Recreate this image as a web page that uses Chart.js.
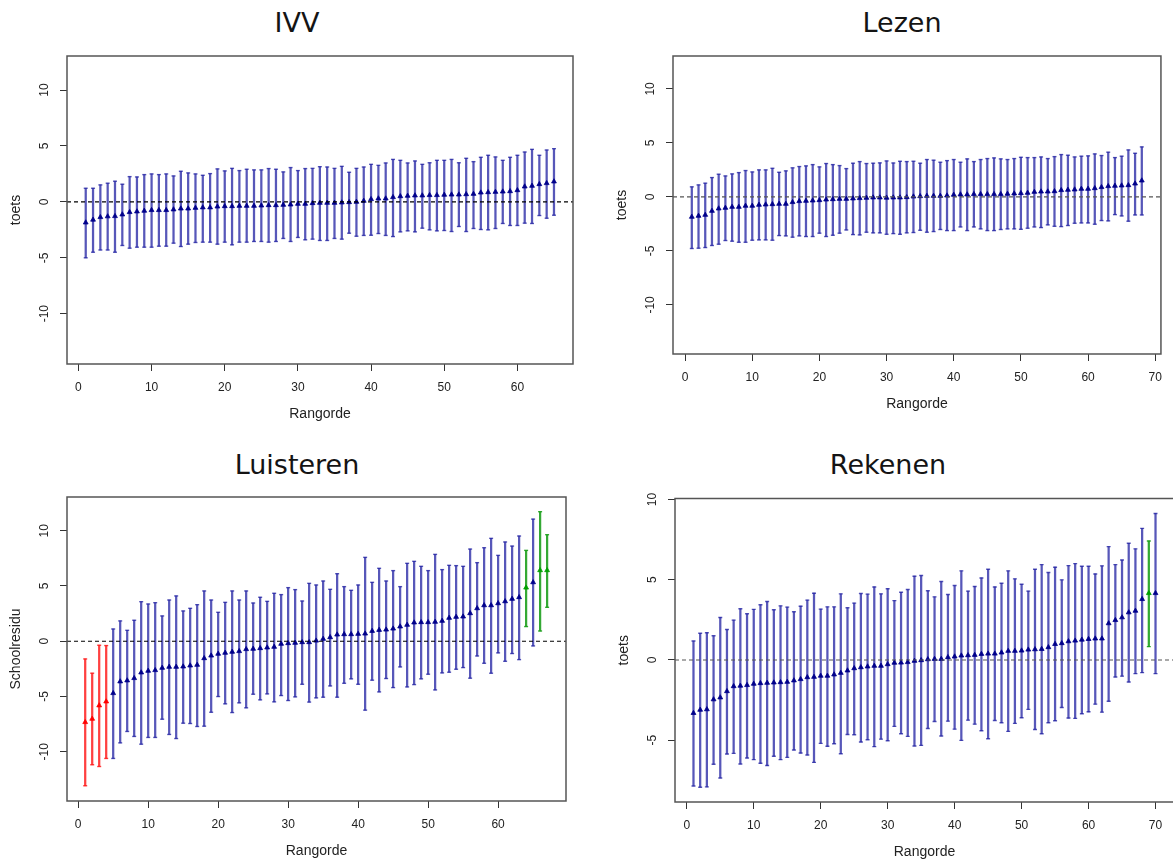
<!DOCTYPE html>
<html>
<head>
<meta charset="utf-8">
<script src="https://cdn.jsdelivr.net/npm/chart.js@4.4.1/dist/chart.umd.min.js"></script>
<style>
  html, body { margin: 0; padding: 0; background: #fff; overflow: hidden; width: 1173px; height: 863px; }
  canvas { position: absolute; }
  .ttl { position: absolute; width: 300px; text-align: center; font-family: "DejaVu Sans", sans-serif;
         font-size: 27px; line-height: 27px; color: #141414; white-space: nowrap; }
</style>
</head>
<body>
<div class="ttl" id="t1">IVV</div>
<div class="ttl" id="t2">Lezen</div>
<div class="ttl" id="t3">Luisteren</div>
<div class="ttl" id="t4">Rekenen</div>
<canvas id="c1"></canvas>
<canvas id="c2"></canvas>
<canvas id="c3"></canvas>
<canvas id="c4"></canvas>
<script>
// ---------------- DATA ----------------
const panelTitles = ["IVV", "Lezen", "Luisteren", "Rekenen"];
const xAxisTitle = "Rangorde";
const yAxisTitles = ["toets", "toets", "Schoolresidu", "toets"];

// IVV (65 schools, ordered by rank)
const ivvEst = [-1.85,-1.6,-1.37,-1.3,-1.28,-1.13,-0.92,-0.86,-0.8,-0.74,-0.74,-0.74,-0.68,-0.6,-0.6,-0.54,-0.5,-0.5,-0.42,-0.39,
  -0.39,-0.36,-0.36,-0.36,-0.33,-0.3,-0.3,-0.27,-0.24,-0.18,-0.18,-0.12,-0.09,-0.09,-0.09,-0.06,-0.03,0,0.09,0.24,
  0.3,0.3,0.42,0.5,0.54,0.57,0.57,0.6,0.6,0.63,0.65,0.65,0.68,0.71,0.83,0.86,0.89,0.92,0.95,1.04,
  1.37,1.43,1.58,1.67,1.82];
const ivvHigh = [1.22,1.22,1.52,1.67,1.85,1.58,2.26,2.23,2.44,2.5,2.44,2.5,2.32,2.74,2.59,2.5,2.38,2.53,2.95,2.77,
  3.0,2.8,2.92,2.86,2.86,2.98,2.92,2.68,3.07,2.8,2.98,3.0,3.15,3.12,3.0,3.18,2.65,3.0,3.12,3.36,
  3.27,3.48,3.8,3.72,3.48,3.66,3.36,3.5,3.72,3.72,3.8,3.5,3.9,3.6,3.99,4.17,4.02,3.72,3.99,4.17,
  4.46,4.7,4.17,4.64,4.76];
const ivvLow = [-5.0,-4.5,-4.3,-4.3,-4.5,-3.9,-4.14,-4.05,-4.05,-4.05,-3.96,-3.96,-3.69,-3.99,-3.78,-3.63,-3.6,-3.6,-3.78,-3.6,
  -3.84,-3.6,-3.6,-3.54,-3.54,-3.6,-3.54,-3.27,-3.54,-3.18,-3.39,-3.33,-3.45,-3.45,-3.27,-3.33,-2.8,-3.07,-3.0,-2.98,
  -2.83,-3.0,-3.1,-2.68,-2.59,-2.68,-2.35,-2.5,-2.59,-2.56,-2.65,-2.2,-2.65,-2.38,-2.47,-2.5,-2.38,-1.93,-2.11,-2.11,
  -1.9,-1.93,-1.22,-1.46,-1.19];

// Lezen (68 schools)
const lezenEst = [-1.85,-1.76,-1.67,-1.3,-1.08,-1.02,-0.93,-0.93,-0.83,-0.83,-0.74,-0.71,-0.68,-0.65,-0.65,-0.49,-0.4,-0.37,-0.34,-0.31,
  -0.25,-0.22,-0.19,-0.19,-0.15,-0.12,-0.09,-0.06,-0.06,-0.08,-0.06,-0.06,-0.03,0.03,0.06,0.09,0.09,0.09,0.12,0.19,
  0.22,0.22,0.25,0.25,0.25,0.25,0.25,0.28,0.31,0.34,0.37,0.46,0.49,0.49,0.52,0.62,0.65,0.68,0.74,0.74,
  0.8,0.9,0.99,1.02,1.05,1.08,1.23,1.51];
const lezenHigh = [0.93,1.11,1.27,1.79,2.1,1.94,2.13,2.25,2.44,2.31,2.5,2.5,2.65,2.28,2.41,2.69,2.81,2.87,2.99,2.78,
  3.09,2.99,2.9,2.62,3.12,3.27,3.09,3.12,3.15,3.33,3.14,3.3,3.27,3.3,3.12,3.46,3.4,3.21,3.36,3.46,
  3.21,3.52,3.27,3.46,3.55,3.61,3.52,3.46,3.55,3.67,3.64,3.64,3.7,3.55,3.73,3.92,3.86,3.7,3.77,3.8,
  3.98,3.83,4.14,3.64,3.77,4.35,4.04,4.63];
const lezenLow = [-4.78,-4.75,-4.69,-4.5,-4.38,-4.04,-4.1,-4.2,-4.2,-4.01,-3.98,-3.98,-4.01,-3.58,-3.61,-3.73,-3.61,-3.67,-3.67,-3.36,
  -3.67,-3.55,-3.36,-3.06,-3.49,-3.52,-3.27,-3.33,-3.33,-3.46,-3.4,-3.46,-3.33,-3.3,-3.09,-3.27,-3.21,-3.02,-3.12,-3.12,
  -2.78,-3.12,-2.78,-2.96,-3.12,-3.12,-3.02,-2.96,-2.96,-3.0,-2.9,-2.78,-2.84,-2.59,-2.72,-2.75,-2.65,-2.44,-2.41,-2.41,
  -2.53,-2.19,-2.22,-1.64,-1.76,-2.25,-1.67,-1.67];

// Luisteren (67 schools)
const luisterenEst = [-7.32,-7.02,-5.81,-5.45,-4.7,-3.64,-3.55,-3.34,-2.83,-2.68,-2.62,-2.41,-2.32,-2.32,-2.29,-2.2,-2.14,-1.54,-1.3,-1.14,
  -1.05,-0.96,-0.9,-0.72,-0.69,-0.63,-0.57,-0.51,-0.24,-0.18,-0.15,-0.09,-0.09,0.05,0.21,0.36,0.6,0.63,0.63,0.66,
  0.69,0.93,1.02,1.05,1.14,1.33,1.48,1.69,1.72,1.72,1.75,1.84,2.11,2.2,2.23,2.53,2.98,3.25,3.25,3.43,
  3.61,3.83,3.98,4.85,5.33,6.42,6.42];
const luisterenHigh = [-1.6,-2.89,-0.36,-0.39,1.11,1.84,0.99,1.9,3.58,3.37,3.49,2.29,3.73,4.1,2.74,2.98,3.31,4.55,3.73,2.62,
  3.52,4.55,3.73,4.55,3.46,3.98,3.61,4.34,4.22,4.85,4.67,3.64,5.24,5.09,5.45,4.7,6.11,4.94,4.61,5.09,
  7.59,5.33,6.6,5.45,6.39,4.94,7.05,7.23,6.78,6.39,7.86,6.48,6.87,6.84,6.78,8.34,7.11,8.46,9.31,7.77,
  8.98,8.61,9.52,8.22,11.05,11.72,9.64];
const luisterenLow = [-13.07,-11.17,-11.33,-10.6,-10.6,-9.19,-8.16,-8.61,-9.31,-8.7,-8.7,-7.05,-8.43,-8.8,-7.41,-7.44,-7.71,-7.68,-6.42,-5.0,
  -5.66,-6.45,-5.57,-6.02,-4.79,-5.3,-4.76,-5.48,-4.91,-5.36,-5.03,-3.89,-5.5,-5.12,-5.06,-4.04,-5.06,-3.8,-3.4,-3.89,
  -6.23,-3.52,-4.58,-3.37,-4.19,-2.32,-4.13,-3.92,-3.4,-2.98,-4.4,-2.86,-2.8,-2.53,-2.38,-3.34,-1.33,-1.99,-2.89,-1.05,
  -1.81,-1.11,-1.66,1.33,-0.42,0.93,3.07];
const luisterenBelowRanks = [1, 2, 3, 4];
const luisterenAboveRanks = [64, 66, 67];

// Rekenen (70 schools)
const rekenenEst = [-3.31,-3.11,-3.08,-2.46,-2.34,-1.95,-1.64,-1.61,-1.57,-1.49,-1.45,-1.43,-1.41,-1.39,-1.37,-1.28,-1.2,-1.08,-1.06,-0.99,
  -0.99,-0.91,-0.81,-0.66,-0.52,-0.46,-0.41,-0.37,-0.37,-0.27,-0.18,-0.17,-0.14,-0.06,-0.02,0.04,0.06,0.06,0.17,0.21,
  0.27,0.29,0.31,0.37,0.39,0.39,0.46,0.56,0.56,0.58,0.64,0.66,0.68,0.79,0.99,1.04,1.16,1.2,1.26,1.3,
  1.33,1.33,2.28,2.48,2.65,2.96,3.06,3.79,4.16,4.16];
const rekenenHigh = [1.18,1.66,1.7,1.51,2.65,1.9,2.48,3.19,2.88,3.15,3.44,3.64,3.13,3.37,3.29,3.0,3.35,3.73,4.16,3.17,
  3.31,3.31,4.12,3.25,3.54,4.14,4.1,4.55,4.12,4.44,3.7,4.22,4.39,5.22,5.26,4.31,3.93,4.89,4.08,4.64,
  5.55,4.29,4.58,5.11,5.65,4.55,4.78,5.55,5.05,4.72,4.29,5.65,5.94,5.45,5.78,4.99,5.88,6.0,5.84,5.84,
  5.36,5.86,7.06,5.94,6.23,7.27,6.92,8.2,7.41,9.13];
const rekenenLow = [-7.85,-7.93,-7.91,-6.5,-7.35,-5.86,-5.82,-6.48,-6.11,-6.21,-6.44,-6.58,-6.0,-6.21,-6.07,-5.61,-5.8,-5.92,-6.38,-5.2,
  -5.38,-5.22,-5.84,-4.64,-4.66,-5.11,-4.97,-5.4,-4.93,-5.03,-4.14,-4.6,-4.76,-5.36,-5.32,-4.27,-3.83,-4.74,-3.81,-4.31,
  -5.01,-3.75,-4.0,-4.41,-4.91,-3.77,-3.91,-4.45,-3.95,-3.6,-3.08,-4.33,-4.6,-3.91,-3.79,-2.96,-3.62,-3.64,-3.35,-3.23,
  -2.75,-3.25,-2.57,-1.06,-1.01,-1.37,-0.85,-0.79,0.83,-0.85];
const rekenenBelowRanks = [];
const rekenenAboveRanks = [69];

// Axis limits (as in the original plots)
const ivvXLim = [-1.56, 67.6],  ivvYLim = [-14.5, 13.05];
const lezenXLim = [-1.8, 70.85], lezenYLim = [-14.55, 13.05];
const luisterenXLim = [-1.6, 69.7], luisterenYLim = [-14.45, 13.05];
const rekenenXLim = [-1.76, 72.76], rekenenYLim = [-8.85, 10.06];
const xTickStep = 10, yTickStep = 5;

// ---------------- STYLE / LAYOUT ----------------
const FONT = '"Liberation Sans", Arial, sans-serif';
const AXW = 66, AXH = 66, TPAD = 14, RPAD = 8;
const STATUS_STYLE = {
  none: { bar: 'rgba(40,40,165,0.78)', pt: '#00008b' },
  below: { bar: 'rgba(255,30,30,0.85)', pt: '#ff0000' },
  above: { bar: 'rgba(30,160,30,0.9)', pt: '#00a000' }
};

const boxPlugin = {
  id: 'rbox',
  afterDraw(chart) {
    const { ctx, chartArea: a } = chart;
    ctx.save();
    ctx.strokeStyle = '#555';
    ctx.lineWidth = 1.5;
    ctx.strokeRect(a.left, a.top, a.right - a.left, a.bottom - a.top);
    ctx.restore();
  }
};

function placeTitle(id, text, cx, cy) {
  const el = document.getElementById(id);
  el.textContent = text;
  el.style.left = (cx - 150) + 'px';
  el.style.top = (cy - 13) + 'px';
}

function makePanel(p) {
  const cv = document.getElementById(p.canvas);
  const W = Math.round(p.area.r - p.area.l + AXW + RPAD);
  const H = Math.round(p.area.b - p.area.t + TPAD + AXH);
  cv.width = W; cv.height = H;
  cv.style.width = W + 'px'; cv.style.height = H + 'px';
  cv.style.left = (p.area.l - AXW) + 'px';
  cv.style.top = (p.area.t - TPAD) + 'px';

  const ranks = p.est.map((_, i) => i + 1);
  const status = ranks.map(r => p.below.includes(r) ? 'below' : (p.above.includes(r) ? 'above' : 'none'));
  const barCols = status.map(s => STATUS_STYLE[s].bar);
  const ptCols = status.map(s => STATUS_STYLE[s].pt);

  const gridOpts = { display: true, offset: false, drawOnChartArea: false, drawTicks: true, tickLength: 7,
                     color: '#333', tickColor: '#333', tickWidth: 1 };

  new Chart(cv, {
    type: 'bar',
    data: {
      datasets: [
        { type: 'line', label: 'nul', order: 0,
          data: [{ x: p.xLim[0], y: 0 }, { x: p.xLim[1], y: 0 }],
          borderColor: p.zeroColor, borderWidth: 1.1, borderDash: [4, 3], pointRadius: 0, fill: false },
        { type: 'line', label: 'schatting', order: 1, showLine: false,
          data: ranks.map((r, i) => ({ x: r, y: p.est[i] })),
          pointStyle: 'triangle', pointRadius: 2.8, pointBorderWidth: 0.8,
          pointBackgroundColor: ptCols, pointBorderColor: ptCols },
        { type: 'line', label: 'boven', order: 2, showLine: false,
          data: ranks.map((r, i) => ({ x: r, y: p.hi[i] })),
          pointStyle: 'line', pointRadius: 2, pointBorderWidth: 1.4, pointBorderColor: barCols },
        { type: 'line', label: 'onder', order: 2, showLine: false,
          data: ranks.map((r, i) => ({ x: r, y: p.lo[i] })),
          pointStyle: 'line', pointRadius: 2, pointBorderWidth: 1.4, pointBorderColor: barCols },
        { type: 'bar', label: 'interval', order: 3,
          data: ranks.map((r, i) => ({ x: r, y: [p.lo[i], p.hi[i]] })),
          backgroundColor: barCols, borderWidth: 0, barThickness: 1.6, grouped: false }
      ]
    },
    options: {
      responsive: false, animation: false, events: [],
      layout: { padding: { left: 0, top: TPAD, right: RPAD, bottom: 0 }, autoPadding: false },
      plugins: { legend: { display: false }, tooltip: { enabled: false } },
      scales: {
        x: {
          type: 'linear', min: p.xLim[0], max: p.xLim[1], offset: false,
          afterFit: s => { s.height = AXH; },
          grid: gridOpts, border: { display: false },
          ticks: { stepSize: xTickStep, includeBounds: false, padding: 9, color: '#222', autoSkip: false,
                   maxRotation: 0, font: { family: FONT, size: 12 } },
          title: { display: true, text: xAxisTitle, color: '#222', font: { family: FONT, size: 14 },
                   padding: { top: 0, bottom: 7.6 } }
        },
        y: {
          type: 'linear', min: p.yLim[0], max: p.yLim[1],
          afterFit: s => { s.width = AXW; },
          grid: gridOpts, border: { display: false },
          ticks: { stepSize: yTickStep, includeBounds: false, padding: p.yTickPad, color: '#222',
                   minRotation: 90, maxRotation: 90, crossAlign: 'center', font: { family: FONT, size: 12 } },
          title: { display: true, text: p.yTitle, color: '#222', font: { family: FONT, size: 14 },
                   padding: { top: 6.6, bottom: 0 } }
        }
      }
    },
    plugins: [boxPlugin]
  });
}

placeTitle('t1', panelTitles[0], 297, 22);
placeTitle('t2', panelTitles[1], 902, 22);
placeTitle('t3', panelTitles[2], 297, 464);
placeTitle('t4', panelTitles[3], 888, 464);

makePanel({ canvas: 'c1', area: { l: 67, r: 573, t: 56, b: 364 }, est: ivvEst, hi: ivvHigh, lo: ivvLow,
  below: [], above: [], xLim: ivvXLim, yLim: ivvYLim, yTitle: yAxisTitles[0], zeroColor: '#000', yTickPad: 6.3 });
makePanel({ canvas: 'c2', area: { l: 673, r: 1163, t: 56, b: 354 }, est: lezenEst, hi: lezenHigh, lo: lezenLow,
  below: [], above: [], xLim: lezenXLim, yLim: lezenYLim, yTitle: yAxisTitles[1], zeroColor: '#555', yTickPad: 6.3 });
makePanel({ canvas: 'c3', area: { l: 67, r: 566, t: 497, b: 801 }, est: luisterenEst, hi: luisterenHigh, lo: luisterenLow,
  below: luisterenBelowRanks, above: luisterenAboveRanks, xLim: luisterenXLim, yLim: luisterenYLim,
  yTitle: yAxisTitles[2], zeroColor: '#000', yTickPad: 6.3 });
makePanel({ canvas: 'c4', area: { l: 675, r: 1174, t: 497, b: 802 }, est: rekenenEst, hi: rekenenHigh, lo: rekenenLow,
  below: rekenenBelowRanks, above: rekenenAboveRanks, xLim: rekenenXLim, yLim: rekenenYLim,
  yTitle: yAxisTitles[3], zeroColor: '#555', yTickPad: 8.3 });
</script>
</body>
</html>
